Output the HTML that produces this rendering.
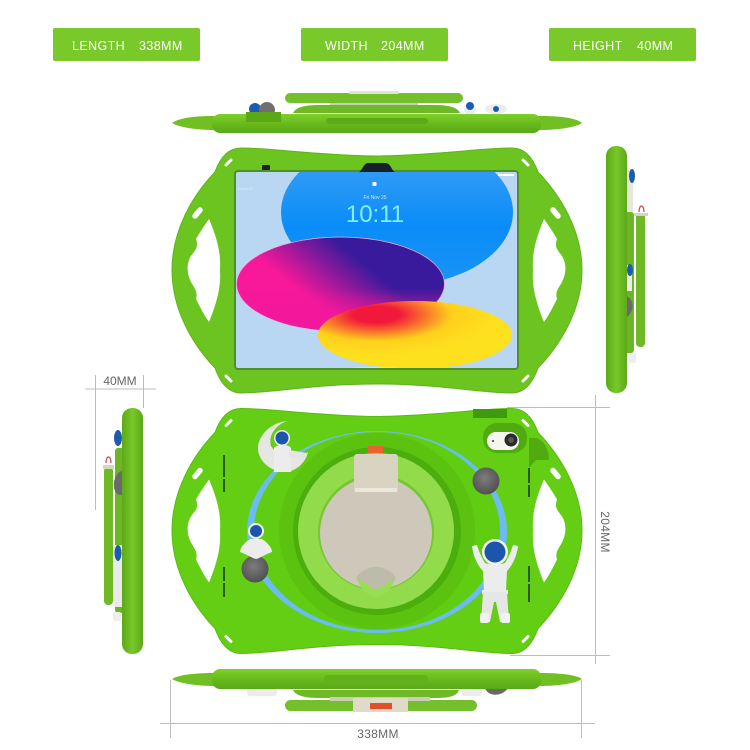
<!DOCTYPE html>
<html><head><meta charset="utf-8"><style>
html,body{margin:0;padding:0;background:#fff}
svg{display:block}
text{font-family:"Liberation Sans",sans-serif}
</style></head><body>
<svg width="750" height="750" viewBox="0 0 750 750" xmlns="http://www.w3.org/2000/svg">
<defs>
<path id="body" d="M376.5 156C440 155 480 148 512 148C525 148 533 158 538 172C560 195 582 230 582 270C582 310 560 345 538 368C533 382 525 393 512 393C480 393 440 384 376.5 384C313 384 273 393 241 393C228 393 220 382 215 368C193 345 172 310 172 270C172 230 193 195 215 172C220 158 228 148 241 148C273 148 313 155 376.5 156Z"/>
<path id="holeR" d="M544 219C549 226 553 232 557 239C554 248 558 250 562 256C567 264 566 274 562 282C558 289 555 292 557 299C553 307 549 315 544 322C535 300 532 285 533 270C532 255 535 240 544 219Z"/>
<linearGradient id="hbar" x1="0" y1="0" x2="0" y2="1"><stop offset="0" stop-color="#7fcf2c"/><stop offset=".55" stop-color="#66b91c"/><stop offset="1" stop-color="#5aa816"/></linearGradient>
<linearGradient id="vbar" x1="0" y1="0" x2="1" y2="0"><stop offset="0" stop-color="#5da818"/><stop offset=".5" stop-color="#78c82a"/><stop offset="1" stop-color="#5da818"/></linearGradient>
<linearGradient id="mag" x1="0" y1=".6" x2=".8" y2=".15"><stop offset=".3" stop-color="#f8189a"/><stop offset=".75" stop-color="#3a1a9c"/></linearGradient>
<linearGradient id="magb" x1="0" y1="0" x2="0" y2="1"><stop offset=".55" stop-color="#f0189c" stop-opacity="0"/><stop offset=".95" stop-color="#f0189c"/></linearGradient>
<radialGradient id="yel" cx=".3" cy=".2" r=".6"><stop offset=".2" stop-color="#f2183c"/><stop offset=".65" stop-color="#ffd01c"/><stop offset="1" stop-color="#fde01e"/></radialGradient>
<linearGradient id="blue" x1="0" y1="0" x2="0" y2="1"><stop offset="0" stop-color="#44a4f4"/><stop offset=".6" stop-color="#0a8cf8"/><stop offset="1" stop-color="#1a94f4"/></linearGradient>
<radialGradient id="ball" cx=".45" cy=".4" r=".6"><stop offset="0" stop-color="#7d7d7d"/><stop offset="1" stop-color="#505050"/></radialGradient>
<clipPath id="scr"><rect x="236" y="172" width="281" height="196" rx="2"/></clipPath>
</defs>

<!-- top labels -->
<rect x="53" y="28" width="147" height="33" rx="2" fill="#7ac92a"/>
<rect x="301" y="28" width="147" height="33" rx="2" fill="#7ac92a"/>
<rect x="549" y="28" width="147" height="33" rx="2" fill="#7ac92a"/>
<g fill="#fff" font-size="12.500" letter-spacing=".4">
<text x="72" y="50">LENGTH</text><text x="139" y="50">338MM</text>
<text x="325" y="50">WIDTH</text><text x="381" y="50">204MM</text>
<text x="573" y="50">HEIGHT</text><text x="637" y="50">40MM</text>
</g>

<!-- top side view -->
<rect x="285" y="93" width="178" height="10" rx="5" fill="#74bf2c"/>
<rect x="349" y="91" width="50" height="3" rx="1" fill="#dfe6cf"/>
<rect x="330" y="103" width="88" height="3" fill="#c9cdb8"/>
<path d="M293 113C296 107 305 105 320 105H435C450 105 458 108 460 113Z" fill="#6fb926"/>
<circle cx="255" cy="109" r="6" fill="#1c5cb0"/>
<circle cx="267" cy="110" r="8" fill="#6f6f6f"/>
<circle cx="470" cy="109" r="6" fill="#e8eef4"/><circle cx="470" cy="106" r="4" fill="#1c5cb0"/>
<ellipse cx="496" cy="109" rx="11" ry="5" fill="#ececec"/><circle cx="496" cy="109" r="3" fill="#1c5cb0"/>
<path d="M172 123C180 117 200 116 214 116L540 116C555 116 575 117 582 123C575 128 555 130 540 130L214 130C200 130 180 128 172 123Z" fill="#70c024"/>
<rect x="212" y="114" width="329" height="19" rx="8" fill="url(#hbar)"/>
<rect x="246" y="112" width="35" height="10" fill="#5aa816"/>
<rect x="326" y="118" width="102" height="6" rx="3" fill="#5daa18"/>

<!-- front -->
<use href="#body" fill="#6cc420" stroke="#60b41a" stroke-width="1"/>
<use href="#holeR" fill="#fff"/>
<use href="#holeR" fill="#fff" transform="matrix(-1 0 0 1 753 0)"/>
<rect x="234" y="170" width="285" height="200" rx="4" fill="#4f8f28"/>
<g clip-path="url(#scr)">
<rect x="236" y="172" width="281" height="196" fill="#b9d7f3"/>
<ellipse cx="397" cy="212" rx="116" ry="74" fill="url(#blue)"/>
<ellipse cx="340.5" cy="284" rx="104" ry="47" fill="url(#mag)" stroke="#f4b0e4" stroke-width=".7"/>
<ellipse cx="340.5" cy="284" rx="104" ry="47" fill="url(#magb)"/>
<ellipse cx="415" cy="335" rx="97" ry="34" fill="url(#yel)"/>
<ellipse cx="375" cy="380" rx="62" ry="13" fill="#e6e2c8"/>
</g>
<text x="375" y="222" fill="#7ff0ff" font-size="24" text-anchor="middle">10:11</text>
<text x="375" y="199" fill="#cfe8fb" font-size="5" text-anchor="middle">Fri Nov 25</text>
<rect x="372.500" y="182" width="4" height="4" rx="1" fill="#fff"/>
<text x="245" y="190" fill="#dce8f4" font-size="4" text-anchor="middle">Touch ID</text>
<rect x="498" y="174" width="16" height="2" fill="#fff"/>
<path d="M359 172C363 170 363 163 369 163H385C391 163 391 170 395 172Z" fill="#17202a"/>
<rect x="262" y="165" width="8" height="5" rx="1" fill="#222"/>
<g stroke="#fff" stroke-linecap="round">
<path stroke-width="3" d="M226 165L231 160M523 160L528 165M226 376L231 381M523 381L528 376"/>
<path stroke-width="5.500" d="M195 216L200 210M553 210L558 216"/>
</g>

<!-- right side view -->
<rect x="636" y="213" width="9" height="134" rx="4" fill="#6fb926"/>
<path d="M634 213L648 213L648 216L634 216Z" fill="#d8d4c0"/>
<path d="M639 212C639 204 644 204 644 212" stroke="#c84848" stroke-width="1.2" fill="none"/>
<rect x="623" y="212" width="11" height="141" rx="3" fill="#6cb524"/>
<rect x="627" y="170" width="6" height="42" fill="#e6e8dc"/>
<ellipse cx="632" cy="176" rx="3" ry="7" fill="#1c5cb0"/>
<rect x="624" y="265" width="8" height="26" fill="#eaeaea"/>
<ellipse cx="630" cy="270" rx="3" ry="6" fill="#1c5cb0"/>
<path d="M624 295C632 297 634 305 632 310C630 316 625 318 624 319Z" fill="#6a6a6a"/>
<rect x="629" y="353" width="7" height="10" rx="2" fill="#eee"/>
<rect x="606" y="146" width="21" height="247" rx="10" fill="url(#vbar)"/>

<!-- left side view -->
<rect x="104" y="467" width="9" height="138" rx="4" fill="#6fb926"/>
<path d="M103 465H114V469H103Z" fill="#d8d4c0"/>
<path d="M106 463C106 455 111 455 111 463" stroke="#c84848" stroke-width="1.2" fill="none"/>
<rect x="115" y="448" width="9" height="165" rx="3" fill="#6cb524"/>
<ellipse cx="118" cy="438" rx="4" ry="8" fill="#1c5cb0"/>
<path d="M124 470C116 472 113 480 114 488C116 495 120 496 124 494Z" fill="#6a6a6a"/>
<rect x="114" y="545" width="10" height="62" fill="#eaeaea"/>
<ellipse cx="118" cy="553" rx="3.500" ry="8" fill="#1c5cb0"/>
<rect x="113" y="612" width="8" height="9" rx="2" fill="#eee"/>
<rect x="122" y="408" width="21" height="246" rx="10" fill="url(#vbar)"/>

<!-- back -->
<g transform="translate(0 260.500)">
<use href="#body" fill="#64ce14" stroke="#58bc10" stroke-width="1"/>
<use href="#holeR" fill="#fff"/>
<use href="#holeR" fill="#fff" transform="matrix(-1 0 0 1 753 0)"/>
<g stroke="#fff" stroke-linecap="round" fill="none">
<path stroke-width="3" d="M226 165L231 160M523 160L528 165M226 376L231 381M523 381L528 376"/>
<path stroke-width="5.500" d="M195 216L200 210M553 210L558 216"/>
</g>
</g>
<g stroke="#2c5a14" stroke-width="2" fill="none">
<path d="M224 455V477M224 479V492M224 567V581M224 583V597M529 468V483M529 485V497M529 566V582M529 584V602"/>
</g>
<ellipse cx="377" cy="532" rx="130" ry="101" fill="#6cbcf2"/>
<ellipse cx="377" cy="531" rx="123" ry="99" fill="#60cc12"/>
<circle cx="377" cy="531" r="98" fill="#5cc210"/>
<circle cx="377" cy="531" r="84" fill="#4cae0c"/>
<circle cx="376" cy="531" r="78" fill="#92dc4c"/>
<circle cx="376" cy="532" r="58" fill="#78c632"/>
<circle cx="376" cy="533" r="56" fill="#cdc8ba"/>
<path d="M356 578C366 563 386 563 396 578L376 590Z" fill="#bdbcaa"/>
<path d="M356 578L376 590L396 578L388 592L376 597L364 592Z" fill="#98de54"/>
<rect x="368" y="446" width="15" height="7" fill="#e8642c"/>
<rect x="354" y="454" width="44" height="38" rx="3" fill="#d9d3c2"/>
<rect x="355" y="488" width="42" height="4" fill="#ece8dc"/>

<!-- camera -->
<rect x="483" y="423" width="44" height="30" rx="14" fill="#50ab10"/>
<rect x="487" y="432" width="32" height="18" rx="9" fill="#f6f6f0"/>
<circle cx="511" cy="440" r="6.500" fill="#2a2a2a"/>
<circle cx="511" cy="440" r="3" fill="#555"/>
<circle cx="493" cy="441" r="1" fill="#333"/>
<rect x="473" y="409" width="34" height="9" fill="#3f9a10"/>
<path d="M529 438H536C546 441 549 452 549 460L536 460L529 468Z" fill="#50ab10"/>

<!-- moon + astronauts -->
<path d="M287 421C268 423 258 438 258 448C258 462 272 472 285 472C296 472 306 462 308 452C298 460 278 458 271 446C268 435 276 425 287 421Z" fill="#e6e6e2"/>
<path d="M274 448C276 444 289 444 291 448L291 472H274Z" fill="#ececec"/>
<path d="M289 450L307 453L305 458L289 457Z" fill="#e4e4e4"/>
<circle cx="282" cy="438" r="8" fill="#f0f0f0"/><circle cx="282" cy="438" r="6.500" fill="#1c56ac"/>
<circle cx="486" cy="481" r="13.500" fill="url(#ball)"/>
<circle cx="255" cy="569" r="13.500" fill="url(#ball)"/>
<g transform="translate(256 531)">
<path d="M-6 8C-12 12-16 17-16 21C-8 24-2 28 0 28C2 28 8 24 16 21C16 17 12 12 6 8Z" fill="#ececec"/>
<circle r="8" fill="#f2f2f2"/><circle r="6" fill="#1c56ac"/>
</g>
<g transform="translate(495 552)">
<path d="M-23-6L-18-7C-16 0-13 6-10 11C-4 13 4 13 10 11C13 6 16 0 18-7L23-6C22 4 17 14 12 19L11 38H13V42H-13V38H-11L-12 19C-17 14-22 4-23-6Z" fill="#ececec"/>
<path d="M-12 40H12L14 70H5L1 50H-1L-5 70H-14Z" fill="#e6e6e6"/>
<rect x="-15" y="61" width="9" height="10" rx="2" fill="#f2f2f2"/>
<rect x="6" y="61" width="9" height="10" rx="2" fill="#f2f2f2"/>
<circle r="13" fill="#f2f2f2"/><circle r="10.500" fill="#1c56ac"/>
</g>

<!-- bottom side view -->
<rect x="285" y="700" width="192" height="11" rx="5.500" fill="#74bf2c"/>
<path d="M293 690C296 696 305 698 320 698H435C450 698 457 696 459 690Z" fill="#6fb926"/>
<rect x="330" y="697" width="100" height="4" fill="#c9cdb8"/>
<rect x="353" y="698" width="55" height="14" fill="#e0dac8"/>
<rect x="370" y="703" width="22" height="6" fill="#e2502a"/>
<rect x="247" y="688" width="30" height="8" rx="3" fill="#ececec"/>
<rect x="462" y="688" width="20" height="8" rx="3" fill="#ececec"/>
<path d="M485 688C488 697 502 697 508 688Z" fill="#6a6a6a"/>
<path d="M172 679C180 674 200 673 214 673L540 673C555 673 575 674 582 679C575 684 555 686 540 686L214 686C200 686 180 684 172 679Z" fill="#70c024"/>
<rect x="212" y="669" width="329" height="20" rx="8" fill="url(#hbar)"/>
<rect x="324" y="675" width="104" height="7" rx="3.500" fill="#62b01a"/>

<!-- dimension lines -->
<g stroke="#bdbdbd" stroke-width="1" fill="none">
<path d="M85 389H156M95.500 375V510M143.500 375V408"/>
<path d="M507 407.500H610M510 655.500H610M595.500 395V664"/>
<path d="M160 723.500H595M170.500 680V738M581.500 680V738"/>
</g>
<g fill="#666" font-size="12" text-anchor="middle">
<text x="120" y="385">40MM</text>
<text x="378" y="738" letter-spacing=".3">338MM</text>
<text transform="translate(601 532) rotate(90)" letter-spacing=".3">204MM</text>
</g>
</svg>
</body></html>
